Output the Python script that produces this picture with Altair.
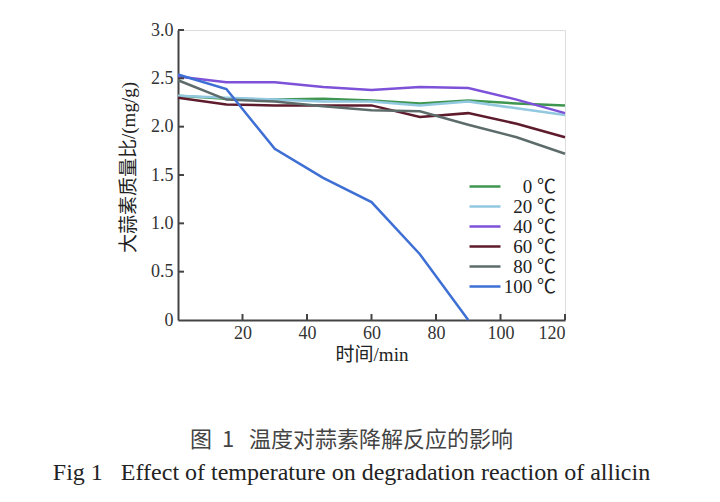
import altair as alt
import pandas as pd

times = [0, 15, 30, 45, 60, 75, 90, 105, 120]
labels = ["0 ℃", "20 ℃", "40 ℃", "60 ℃", "80 ℃", "100 ℃"]
v0 = [2.32, 2.29, 2.28, 2.29, 2.27, 2.24, 2.27, 2.24, 2.22]
v20 = [2.32, 2.30, 2.28, 2.26, 2.26, 2.22, 2.26, 2.19, 2.12]
v40 = [2.52, 2.46, 2.46, 2.41, 2.38, 2.41, 2.40, 2.28, 2.14]
v60 = [2.30, 2.23, 2.22, 2.22, 2.22, 2.10, 2.14, 2.03, 1.89]
v80 = [2.48, 2.28, 2.26, 2.21, 2.17, 2.16, 2.02, 1.89, 1.72]
v100 = [2.54, 2.39, 1.77, 1.47, 1.22, 0.68, 0.0]
colors = ["#3f9651", "#92c8e0", "#7d52d8", "#5e1b2c", "#5d6c6b", "#3e6fd4"]

series = [v0, v20, v40, v60, v80, v100]
rows = []
for lab, vals in zip(labels, series):
    for t, v in zip(times, vals):
        rows.append({"t": t, "v": v, "s": lab})
df = pd.DataFrame(rows)

xticks = [20, 40, 60, 80, 100, 120]
yticks = [0.5, 1.0, 1.5, 2.0, 2.5, 3.0]

W, H = 387, 290
AX = "#444444"
SERIF = "Liberation Serif, Noto Sans CJK SC"

lines = alt.Chart(df).mark_line(strokeWidth=2.5).encode(
    x=alt.X("t:Q", scale=alt.Scale(domain=[0, 120], nice=False),
            axis=alt.Axis(values=xticks, ticks=False, grid=False, domainColor=AX,
                          domainWidth=2, labelFont=SERIF, labelFontSize=18,
                          labelColor="#333", labelPadding=4, title="时间/min",
                          titleFont=SERIF, titleFontSize=19, titleFontWeight="normal",
                          titleColor="#222", titlePadding=3)),
    y=alt.Y("v:Q", scale=alt.Scale(domain=[0, 3], nice=False),
            axis=alt.Axis(values=[0] + yticks, ticks=False, grid=False, domainColor=AX,
                          domainWidth=2, labelFont=SERIF, labelFontSize=18,
                          labelColor="#333", labelPadding=5,
                          labelExpr="datum.value == 0 ? '0' : format(datum.value, '.1f')",
                          title="大蒜素质量比/(mg/g)", titleFont=SERIF, titleFontSize=19,
                          titleFontWeight="normal", titleColor="#222", titlePadding=12,
                          titleY=137)),
    color=alt.Color("s:N", sort=labels,
                    scale=alt.Scale(domain=labels, range=colors),
                    legend=alt.Legend(title=None, orient="none", legendX=290, legendY=147,
                                      symbolType="stroke", symbolSize=960,
                                      symbolStrokeWidth=2.5, labelFont=SERIF,
                                      labelFontSize=19, labelColor="#222",
                                      clipHeight=19, rowPadding=0,
                                      labelAlign="right", labelOffset=54)),
    detail="s:N",
)

xt = alt.Chart(pd.DataFrame({"v": xticks})).mark_rule(color=AX, strokeWidth=2).encode(
    x="v:Q", y=alt.value(H), y2=alt.value(H - 6))
yt = alt.Chart(pd.DataFrame({"v": yticks})).mark_rule(color=AX, strokeWidth=2).encode(
    y="v:Q", x=alt.value(0), x2=alt.value(6))

chart = alt.layer(lines, xt, yt).properties(
    width=W, height=H,
    autosize=alt.AutoSizeParams(type="none"),
    padding={"left": 170, "top": 22, "right": 140, "bottom": 170},
    title=alt.TitleParams(
        text="图\u00a0\u00a01\u00a0\u00a0\u00a0温度对蒜素降解反应的影响",
        subtitle="Fig\u00a01\u00a0\u00a0\u00a0Effect\u00a0of\u00a0temperature\u00a0on\u00a0degradation\u00a0reaction\u00a0of\u00a0allicin",
        orient="bottom", anchor="middle", dx=-20, offset=66,
        font="Noto Sans CJK SC", fontSize=22, fontWeight="normal", color="#444",
        subtitleFont="Liberation Serif", subtitleFontSize=24, subtitleColor="#222",
        subtitlePadding=9),
).configure_view(stroke=None).configure(background="white")

chart.save("out.html", embed_options={"renderer": "svg", "actions": False})
